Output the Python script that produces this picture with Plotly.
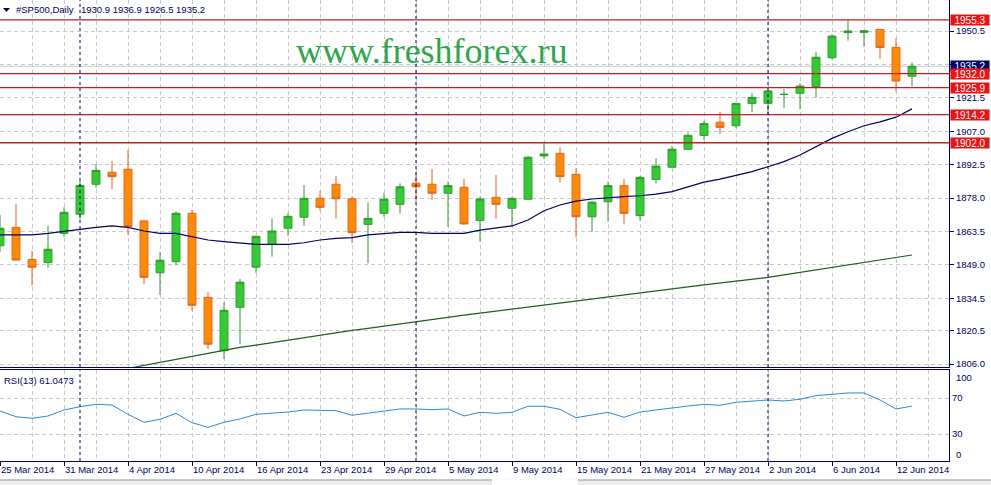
import plotly.graph_objects as go

# ---------------- data ----------------
dates = ["25 Mar 2014", "26 Mar 2014", "27 Mar 2014", "28 Mar 2014", "31 Mar 2014",
         "1 Apr 2014", "2 Apr 2014", "3 Apr 2014", "4 Apr 2014", "7 Apr 2014",
         "8 Apr 2014", "9 Apr 2014", "10 Apr 2014", "11 Apr 2014", "14 Apr 2014",
         "15 Apr 2014", "16 Apr 2014", "17 Apr 2014", "21 Apr 2014", "22 Apr 2014",
         "23 Apr 2014", "24 Apr 2014", "25 Apr 2014", "28 Apr 2014", "29 Apr 2014",
         "30 Apr 2014", "1 May 2014", "2 May 2014", "5 May 2014", "6 May 2014",
         "7 May 2014", "8 May 2014", "9 May 2014", "12 May 2014", "13 May 2014",
         "14 May 2014", "15 May 2014", "16 May 2014", "19 May 2014", "20 May 2014",
         "21 May 2014", "22 May 2014", "23 May 2014", "26 May 2014", "27 May 2014",
         "28 May 2014", "29 May 2014", "30 May 2014", "2 Jun 2014", "3 Jun 2014",
         "4 Jun 2014", "5 Jun 2014", "6 Jun 2014", "9 Jun 2014", "10 Jun 2014",
         "11 Jun 2014", "12 Jun 2014", "13 Jun 2014"]

opens = [1857.3, 1865.3, 1851.4, 1850.0, 1862.7, 1871.0, 1884.0, 1889.2, 1890.5, 1868.1,
         1845.6, 1850.4, 1871.4, 1834.9, 1811.8, 1830.6, 1848.0, 1857.9, 1864.9, 1869.7,
         1877.9, 1884.0, 1877.7, 1866.6, 1871.4, 1875.3, 1884.4, 1884.0, 1880.1, 1882.7,
         1868.2, 1878.3, 1873.6, 1877.5, 1896.3, 1897.4, 1888.3, 1869.9, 1876.4, 1883.4,
         1870.4, 1886.1, 1891.4, 1899.2, 1905.2, 1910.9, 1909.4, 1919.1, 1919.1, 1922.9,
         1923.5, 1926.3, 1938.9, 1949.8, 1949.9, 1951.2, 1943.4, 1930.9]
highs = [1870.7, 1875.4, 1855.0, 1865.9, 1874.0, 1885.4, 1892.8, 1894.1, 1898.9, 1868.3,
         1854.5, 1872.1, 1872.8, 1837.1, 1832.8, 1842.9, 1861.6, 1869.2, 1871.4, 1883.7,
         1881.1, 1887.6, 1878.6, 1876.2, 1880.1, 1884.4, 1888.8, 1890.6, 1885.1, 1886.3,
         1878.6, 1888.0, 1878.3, 1896.3, 1901.8, 1900.0, 1890.9, 1876.7, 1885.1, 1886.3,
         1887.6, 1895.3, 1900.6, 1906.4, 1911.4, 1915.5, 1919.2, 1923.5, 1924.6, 1925.3,
         1927.8, 1941.5, 1949.1, 1955.3, 1950.7, 1951.3, 1947.3, 1936.9]
lows = [1854.7, 1851.0, 1840.0, 1847.8, 1861.2, 1868.8, 1882.5, 1881.9, 1862.0, 1840.7,
        1835.9, 1849.0, 1829.1, 1812.5, 1808.2, 1814.6, 1845.6, 1852.6, 1861.7, 1866.0,
        1872.5, 1869.2, 1858.4, 1849.7, 1869.9, 1871.4, 1876.4, 1877.2, 1865.6, 1866.3,
        1859.1, 1869.2, 1865.6, 1877.3, 1895.0, 1884.8, 1861.0, 1863.4, 1867.8, 1866.6,
        1868.2, 1884.4, 1891.2, 1898.7, 1903.2, 1905.8, 1908.5, 1915.2, 1914.1, 1917.2,
        1916.7, 1921.6, 1938.2, 1946.3, 1943.7, 1938.4, 1924.2, 1926.5]
closes = [1864.9, 1851.1, 1848.0, 1855.8, 1871.8, 1883.5, 1890.0, 1887.3, 1865.6, 1843.6,
          1851.0, 1871.4, 1831.5, 1814.6, 1829.3, 1841.5, 1861.4, 1863.7, 1870.1, 1877.9,
          1874.0, 1877.7, 1863.0, 1869.2, 1877.5, 1882.9, 1882.9, 1880.1, 1883.4, 1866.8,
          1877.6, 1875.3, 1877.9, 1895.7, 1897.1, 1887.3, 1869.9, 1876.2, 1883.4, 1871.4,
          1887.0, 1891.9, 1899.2, 1905.2, 1910.4, 1908.7, 1919.1, 1921.7, 1924.5, 1923.0,
          1926.6, 1939.1, 1948.3, 1950.5, 1950.6, 1943.3, 1928.8, 1935.2]

ma_fast = [1862.0, 1862.0, 1862.0, 1862.7, 1863.6, 1864.5, 1865.3, 1865.9, 1865.3, 1863.7,
           1862.7, 1862.7, 1861.2, 1859.8, 1859.1, 1858.4, 1857.9, 1857.9, 1857.9, 1858.6,
           1859.8, 1860.5, 1860.8, 1862.0, 1862.7, 1863.1, 1863.1, 1862.7, 1862.7, 1862.7,
           1864.1, 1865.1, 1865.9, 1868.5, 1872.5, 1875.0, 1876.7, 1877.6, 1878.2, 1878.6,
           1879.0, 1879.7, 1880.8, 1882.9, 1884.9, 1886.2, 1887.7, 1889.5, 1891.6, 1893.8,
           1896.7, 1900.3, 1903.9, 1906.8, 1909.4, 1911.1, 1913.1, 1916.7]

ma_slow = [None] * 8 + [
           1804.1, 1805.4, 1806.7, 1808.1, 1809.4, 1810.7, 1812.1, 1813.2, 1814.2, 1815.3,
           1816.4, 1817.5, 1818.6, 1819.6, 1820.6, 1821.5, 1822.5, 1823.5, 1824.5, 1825.4,
           1826.3, 1827.2, 1828.1, 1829.0, 1829.9, 1830.7, 1831.6, 1832.5, 1833.4, 1834.3,
           1835.2, 1836.1, 1836.9, 1837.8, 1838.6, 1839.5, 1840.3, 1841.1, 1841.9, 1842.8,
           1843.6, 1844.7, 1845.8, 1846.8, 1847.9, 1849.0, 1850.1, 1851.2, 1852.3, 1853.3]

rsi = [55.6, 49.2, 47.4, 50.0, 56.7, 60.3, 63.0, 62.2, 51.9, 43.0,
       46.3, 53.0, 42.6, 37.4, 43.0, 46.7, 51.9, 53.3, 54.4, 56.7,
       55.9, 55.9, 50.8, 53.0, 55.6, 57.8, 57.8, 57.0, 57.8, 50.0,
       54.1, 53.0, 54.1, 60.8, 60.8, 57.4, 48.1, 51.1, 54.1, 48.6,
       54.4, 56.7, 59.2, 61.1, 63.0, 61.9, 65.2, 66.7, 67.8, 66.7,
       68.6, 72.6, 74.4, 75.6, 75.6, 67.8, 57.8, 61.0]
rsi_last = "61.0473"

levels = [1955.3, 1932.0, 1925.9, 1914.2, 1902.0]
last_price = 1935.2
price_ticks = [1806.0, 1820.5, 1834.5, 1849.0, 1863.5, 1878.0, 1892.5, 1907.0, 1921.5, 1936.0, 1950.5]
rsi_ticks = [30, 70]
separator_dates = ["1 Apr 2014", "1 May 2014", "2 Jun 2014"]
label_step = 4
symbol_text = "#SP500,Daily"
ohlc_text = "1930.9 1936.9 1926.5 1935.2"
watermark = "www.freshforex.ru"

# ---------------- layout geometry ----------------
W, H = 991, 485
ML, MR, MT, MB = 0, 42, 0, 24
PW, PH = W - ML - MR, H - MT - MB          # 949 x 461
MAIN_BOTTOM_PX, RSI_TOP_PX = 367, 370
PX_PER_BAR = 16.0


def py(p):
    return (PH - p) / PH


x = list(range(len(dates)))
NAVY = "#000066"
GRID = "#c9c9c9"
FONT = "Tahoma, 'Liberation Sans', Arial, sans-serif"

fig = go.Figure()

fig.add_trace(go.Candlestick(
    x=x, open=opens, high=highs, low=lows, close=closes,
    increasing=dict(fillcolor="#32CD32", line=dict(color="#2a9a2a", width=1)),
    decreasing=dict(fillcolor="#FF8C00", line=dict(color="#e8601a", width=1)),
    whiskerwidth=0, hoverinfo="skip", showlegend=False, xaxis="x", yaxis="y"))

fig.add_trace(go.Scatter(x=x, y=ma_fast, mode="lines", line=dict(color=NAVY, width=1.2),
                         hoverinfo="skip", showlegend=False, xaxis="x", yaxis="y"))
fig.add_trace(go.Scatter(x=x, y=ma_slow, mode="lines", line=dict(color="#1d5e1d", width=1.2),
                         hoverinfo="skip", showlegend=False, xaxis="x", yaxis="y"))
fig.add_trace(go.Scatter(x=x, y=rsi, mode="lines", line=dict(color="#2a8ad8", width=1),
                         hoverinfo="skip", showlegend=False, xaxis="x2", yaxis="y2"))

shapes = []
annotations = []

# bid line
shapes.append(dict(type="line", xref="x domain", yref="y", x0=0, x1=1, y0=last_price, y1=last_price,
                   line=dict(color="#c8c8c8", width=1), layer="below"))
# horizontal red levels
for lv in levels:
    shapes.append(dict(type="line", xref="x domain", yref="y", x0=0, x1=1, y0=lv, y1=lv,
                       line=dict(color="#c41e1e", width=1.3)))
# monthly separators
for d in separator_dates:
    xi = dates.index(d)
    for yr in ("y domain", "y2 domain"):
        shapes.append(dict(type="line", xref="x", yref=yr, x0=xi, x1=xi, y0=0, y1=1,
                           line=dict(color=NAVY, width=1, dash="3px,3px")))
# bottom tab strip
shapes.append(dict(type="rect", xref="paper", yref="paper", x0=0, x1=W / PW,
                   y0=py(485), y1=py(479.5), fillcolor="#ececec", line=dict(width=0), layer="above"))
shapes.append(dict(type="line", xref="paper", yref="paper", x0=0, x1=492 / PW,
                   y0=py(480), y1=py(480), line=dict(color="#9a9a9a", width=1)))
shapes.append(dict(type="line", xref="paper", yref="paper", x0=578 / PW, x1=W / PW,
                   y0=py(480), y1=py(480), line=dict(color="#9a9a9a", width=1)))
shapes.append(dict(type="rect", xref="paper", yref="paper", x0=492 / PW, x1=578 / PW,
                   y0=py(485), y1=py(479.5), fillcolor="#ffffff", line=dict(width=0), layer="above"))
# small triangle in the title
shapes.append(dict(type="path", xref="paper", yref="paper",
                   path=f"M {3/PW},{py(8)} L {10/PW},{py(8)} L {6.5/PW},{py(12)} Z",
                   fillcolor=NAVY, line=dict(width=0)))

# title texts
annotations.append(dict(xref="paper", yref="paper", x=14 / PW, y=py(10), xanchor="left", yanchor="middle",
                        text=symbol_text, showarrow=False, font=dict(family=FONT, size=9.5, color=NAVY)))
annotations.append(dict(xref="paper", yref="paper", x=79 / PW, y=py(10), xanchor="left", yanchor="middle",
                        text=ohlc_text, showarrow=False, font=dict(family=FONT, size=9.5, color=NAVY)))
annotations.append(dict(xref="paper", yref="paper", x=2 / PW, y=py(380), xanchor="left", yanchor="middle",
                        text=f"RSI(13) {rsi_last}", showarrow=False, font=dict(family=FONT, size=9.5, color=NAVY)))
# watermark
annotations.append(dict(xref="paper", yref="paper", x=432 / PW, y=py(51), xanchor="center", yanchor="middle",
                        text=watermark, showarrow=False,
                        font=dict(family="'Liberation Serif', 'Times New Roman', serif", size=36, color="#2ba84a")))
# price tags on the right axis
annotations.append(dict(xref="paper", yref="y", x=1, y=last_price, xanchor="left", yanchor="middle", xshift=1,
                        text=f"{last_price:.1f}", showarrow=False, bgcolor=NAVY, width=38, height=10, borderpad=0,
                        font=dict(family=FONT, size=10, color="white")))
for lv in levels:
    annotations.append(dict(xref="paper", yref="y", x=1, y=lv, xanchor="left", yanchor="middle", xshift=1,
                            text=f"{lv:.1f}", showarrow=False, bgcolor="#ee1111", width=38, height=10, borderpad=0,
                            font=dict(family=FONT, size=10, color="white")))
# RSI 100 / 0 labels (pulled inside the panel as the terminal does)
annotations.append(dict(xref="paper", yref="y2", x=1, y=100, xanchor="left", yanchor="middle", xshift=5, yshift=-6,
                        text="100", showarrow=False, font=dict(family=FONT, size=9.5, color=NAVY)))
annotations.append(dict(xref="paper", yref="y2", x=1, y=0, xanchor="left", yanchor="middle", xshift=5, yshift=7,
                        text="0", showarrow=False, font=dict(family=FONT, size=9.5, color=NAVY)))

tickvals = x[::label_step]
ticktext = dates[::label_step]
main_bottom = (PH - MAIN_BOTTOM_PX) / PH
rsi_top = (PH - RSI_TOP_PX) / PH
ymin = 1950.5 - (MAIN_BOTTOM_PX - 31) / 2.3045
ymax = 1950.5 + 31 / 2.3045
xmax = PW / PX_PER_BAR

grid_minor = dict(tickmode="linear", tick0=0, dtick=2, showgrid=True, gridcolor=GRID, griddash="4px,3px",
                  gridwidth=1, ticks="")

fig.update_layout(
    width=W, height=H, margin=dict(l=ML, r=MR, t=MT, b=MB),
    paper_bgcolor="white", plot_bgcolor="white", showlegend=False,
    font=dict(family=FONT, size=9.5, color=NAVY),
    shapes=shapes, annotations=annotations,
    xaxis=dict(domain=[0, 1], anchor="y", range=[0, xmax], tickmode="array", tickvals=tickvals,
               showticklabels=False, showgrid=True, gridcolor=GRID, griddash="4px,3px", minor=grid_minor,
               showline=True, linecolor=NAVY, linewidth=1, zeroline=False, ticks="",
               rangeslider=dict(visible=False), fixedrange=True),
    yaxis=dict(domain=[main_bottom, 1], anchor="x", side="right", range=[ymin, ymax],
               tickmode="array", tickvals=price_ticks, ticktext=[f"{v:.1f}" for v in price_ticks],
               showgrid=True, gridcolor=GRID, griddash="4px,3px", zeroline=False,
               showline=True, linecolor=NAVY, linewidth=1, ticks="outside", ticklen=4, tickcolor=NAVY,
               tickfont=dict(family=FONT, size=9.5, color=NAVY), fixedrange=True),
    xaxis2=dict(domain=[0, 1], anchor="y2", matches="x", range=[0, xmax], tickmode="array",
                tickvals=tickvals, ticktext=ticktext, ticklabelposition="outside right",
                showgrid=True, gridcolor=GRID, griddash="4px,3px", minor=grid_minor,
                showline=True, mirror=True, linecolor=NAVY, linewidth=1, zeroline=False,
                ticks="outside", ticklen=4, tickcolor=NAVY,
                tickfont=dict(family=FONT, size=9.5, color=NAVY), fixedrange=True),
    yaxis2=dict(domain=[0, rsi_top], anchor="x2", side="right", range=[0, 100 + 1 / 0.9],
                tickmode="array", tickvals=rsi_ticks, ticktext=[str(v) for v in rsi_ticks],
                showgrid=True, gridcolor=GRID, griddash="4px,3px", zeroline=False,
                showline=True, linecolor=NAVY, linewidth=1, ticks="", 
                tickfont=dict(family=FONT, size=9.5, color=NAVY), fixedrange=True),
    boxgap=0.3,
)

fig.write_html("out.html", config={"displayModeBar": False, "staticPlot": True},
               post_script="document.body.style.margin='0';document.body.style.overflow='hidden';")
